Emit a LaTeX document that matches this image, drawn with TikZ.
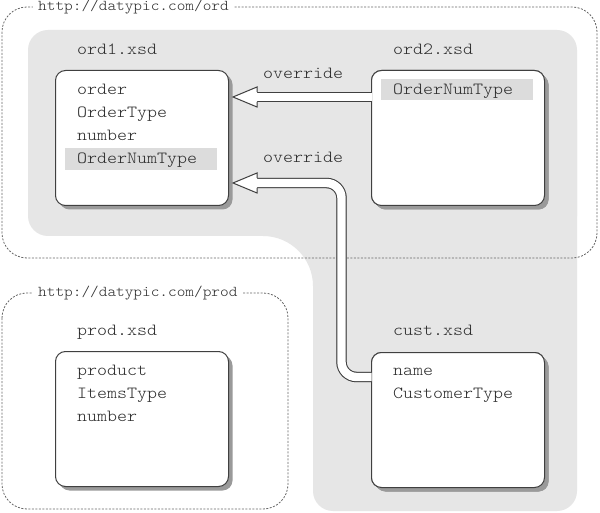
\documentclass[tikz,border=0pt]{standalone}
\usepackage{fontspec}
\newfontfamily\courA{lmmonolt10-regular.otf}[FakeStretch=1.12]
\newfontfamily\courB{lmmonolt10-regular.otf}[FakeStretch=1.10]
\usetikzlibrary{shadows,calc}
\definecolor{regiongray}{HTML}{E6E6E6}
\definecolor{hlgray}{HTML}{DCDCDC}
\definecolor{txt}{HTML}{2A2A2A}
\definecolor{edge}{HTML}{404040}
\definecolor{shadowgray}{HTML}{9A9A9A}
\definecolor{dashgray}{HTML}{666666}
\begin{document}
\begin{tikzpicture}[x=1pt,y=-1pt,
 filebox/.style={draw=edge, line width=1pt, fill=white, rounded corners=10pt, anchor=north west,
   minimum width=173pt, minimum height=135pt, inner sep=0pt,
   general shadow={fill=shadowgray, shadow xshift=4pt, shadow yshift=-4pt}},
 item/.style={anchor=base west, inner sep=0pt, text=txt, font=\courA\fontsize{17}{20}\selectfont},
 url/.style={anchor=base west, inner xsep=5pt, inner ysep=1pt, fill=white, text=txt,
   font=\courB\fontsize{15}{17}\selectfont},
 nsbox/.style={draw=dashgray, line width=0.8pt, dash pattern=on 2pt off 1.5pt, rounded corners=25pt},
 hl/.style={fill=hlgray},
 arrowshaft/.style={draw=edge, line width=1pt, double=white, double distance=8.4pt, rounded corners=15pt},
 arrowshadow/.style={draw=shadowgray, line width=10.4pt, rounded corners=15pt},
 arrowheadshape/.style={fill=white, draw=edge, line width=1pt, line join=miter},
 headshadow/.style={fill=shadowgray}
]
\useasboundingbox (0,0) rectangle (600,513);
\fill[white] (0,0) rectangle (600,513);

% gray region
\fill[regiongray, rounded corners=20pt] (28,30) rectangle (577,236);
\fill[regiongray, rounded corners=20pt] (313,100) rectangle (577,511);
\fill[regiongray] (263,236) .. controls (290.6,236) and (313,258.4) .. (313,286) -- (313,236) -- cycle;

% namespace boxes
\draw[nsbox] (2,7) rectangle (597,258);
\draw[nsbox] (2,293) rectangle (288,509);
\node[url] (ordns) at (33,11) {http://datypic.com/ord};
\node[url] (prodns) at (33,297) {http://datypic.com/prod};

% coordinates for the arrows
\coordinate (t1) at (233,97);
\coordinate (t2) at (233,183);
\coordinate (b2) at (341.5,377);

% file boxes
\node[filebox] (ord1) at (55,70) {};
\node[filebox] (ord2) at (371,70) {};
\node[filebox] (prod) at (55,351) {};
\node[filebox] (cust) at (371,352) {};

% arrow shadows
\begin{scope}[shift={(3,4)}]
  \draw[arrowshadow] ($(t1)+(24,0)$) -- (ord2.west |- t1);
  \fill[headshadow] ($(t1)+(24,-5)$) -- ++(0,-5) -- (t1) -- ++(24,10) -- ++(0,-5) -- cycle;
  \draw[arrowshadow] (cust.west |- b2) -- (b2) -- (b2 |- t2) -- ($(t2)+(24,0)$);
  \fill[headshadow] ($(t2)+(24,-5)$) -- ++(0,-5) -- (t2) -- ++(24,10) -- ++(0,-5) -- cycle;
\end{scope}
\node[filebox] at (371,70) {};
\node[filebox] at (371,352) {};

% highlights
\fill[hl] (65,148) rectangle (217,170);
\fill[hl] (381,79) rectangle (533,100);

% texts
\node[item] (n1) at (77,55) {ord1.xsd};
\node[item] (n1a) at (77,94.5) {order};
\node[item] (n1b) at (77,117.5) {OrderType};
\node[item] (n1c) at (77,140.5) {number};
\node[item] (n1d) at (77,163.5) {OrderNumType};

\node[item] (n2) at (393,55) {ord2.xsd};
\node[item] (n2a) at (393,95) {OrderNumType};

\node[item] (n3) at (77,335) {prod.xsd};
\node[item] (n3a) at (77,375) {product};
\node[item] (n3b) at (77,398) {ItemsType};
\node[item] (n3c) at (77,421) {number};

\node[item] (n4) at (393,335) {cust.xsd};
\node[item] (n4a) at (393,375) {name};
\node[item] (n4b) at (393,398) {CustomerType};

\node[item] (o1) at (263,79) {override};
\node[item] (o2) at (263,163) {override};

% arrows
\draw[arrowshaft] ($(t1)+(24,0)$) -- ($(ord2.west |- t1)+(0.6,0)$);
\draw[arrowheadshape] ($(t1)+(24,-5)$) -- ++(0,-5) -- (t1) -- ++(24,10) -- ++(0,-5);
\draw[arrowshaft] ($(cust.west |- b2)+(0.6,0)$) -- (b2) -- (b2 |- t2) -- ($(t2)+(24,0)$);
\draw[arrowheadshape] ($(t2)+(24,-5)$) -- ++(0,-5) -- (t2) -- ++(24,10) -- ++(0,-5);
\end{tikzpicture}
\end{document}
